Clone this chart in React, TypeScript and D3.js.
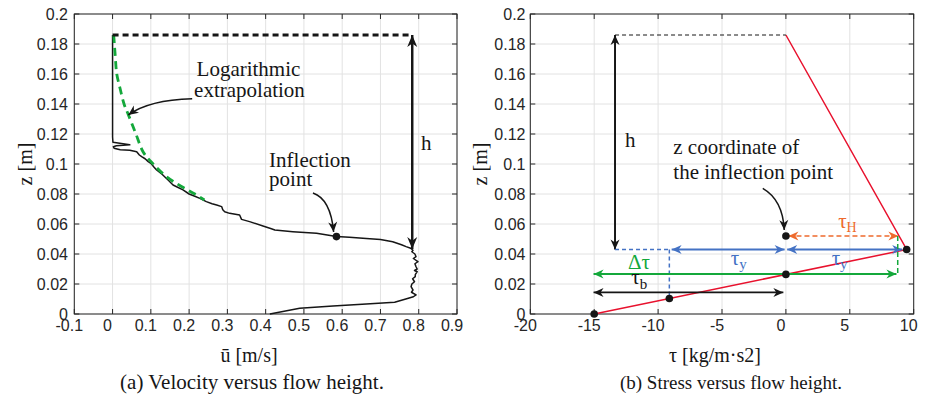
import React from 'react';
import * as d3 from 'd3';

// ---------- data ----------
const uTicks = [-0.1, 0, 0.1, 0.2, 0.3, 0.4, 0.5, 0.6, 0.7, 0.8, 0.9];
const uTickLabels = ['-0.1', '0', '0.1', '0.2', '0.3', '0.4', '0.5', '0.6', '0.7', '0.8', '0.9'];
const zTicks = [0, 0.02, 0.04, 0.06, 0.08, 0.1, 0.12, 0.14, 0.16, 0.18, 0.2];
const zTickLabels = ['0', '0.02', '0.04', '0.06', '0.08', '0.1', '0.12', '0.14', '0.16', '0.18', '0.2'];
const tauTicks = [-20, -15, -10, -5, 0, 5, 10];
const tauTickLabels = ['-20', '-15', '-10', '-5', '0', '5', '10'];

// measured mean velocity profile (u [m/s], z [m])
const velocityU = [0.0, 0.0, 0.0, 0.001, 0.045, 0.01, 0.002, 0.004, 0.02, 0.045, 0.063, 0.07, 0.076, 0.085, 0.093, 0.1, 0.108, 0.115, 0.13, 0.145, 0.158, 0.17, 0.184, 0.2, 0.215, 0.228, 0.245, 0.26, 0.272, 0.285, 0.288, 0.293, 0.306, 0.332, 0.337, 0.358, 0.393, 0.415, 0.424, 0.471, 0.533, 0.585, 0.619, 0.663, 0.7, 0.732, 0.755, 0.767, 0.779, 0.785, 0.782, 0.79, 0.793, 0.786, 0.798, 0.79, 0.793, 0.796, 0.789, 0.796, 0.791, 0.791, 0.784, 0.789, 0.782, 0.78, 0.785, 0.781, 0.793, 0.786, 0.764, 0.737, 0.663, 0.576, 0.489, 0.411];
const velocityZ = [0.186, 0.15, 0.118, 0.1145, 0.1128, 0.1122, 0.1115, 0.1105, 0.1095, 0.1092, 0.1082, 0.106, 0.1049, 0.1035, 0.1016, 0.1005, 0.098, 0.096, 0.093, 0.0893, 0.086, 0.0845, 0.0827, 0.08, 0.0785, 0.0771, 0.0749, 0.0735, 0.0727, 0.0716, 0.0695, 0.0682, 0.0671, 0.066, 0.0631, 0.0616, 0.0587, 0.0568, 0.056, 0.0549, 0.0538, 0.0516, 0.0511, 0.0504, 0.0496, 0.0482, 0.0462, 0.0449, 0.0438, 0.0425, 0.0415, 0.04, 0.0382, 0.037, 0.0349, 0.0335, 0.0315, 0.03, 0.029, 0.0282, 0.0262, 0.0249, 0.0235, 0.0215, 0.02, 0.0182, 0.016, 0.0145, 0.0127, 0.0115, 0.0098, 0.0078, 0.0067, 0.0053, 0.0038, 0.0];

// logarithmic extrapolation
const logU = [0.003, 0.007, 0.011, 0.02, 0.03, 0.041, 0.061, 0.08, 0.106, 0.141, 0.18, 0.215, 0.24];
const logZ = [0.186, 0.172, 0.16, 0.15, 0.14, 0.133, 0.12, 0.108, 0.1, 0.0915, 0.085, 0.08, 0.076];

const flowHeight = 0.186;
const inflectionU = 0.585;
const inflectionZ = 0.0516;
const hArrowU = 0.783;
const hArrowBottomZ = 0.0433;

// stress profile
const redTau = [-15, 9.45, 0];
const redZ = [0, 0.043, 0.186];
const dotTau = [-15, -9.12, 0, 9.45, 0];
const dotZ = [0, 0.0103, 0.0264, 0.043, 0.052];
const yieldZ = 0.043;
const inflZ = 0.052;
const hTau = -13.37;
const tauBZ = 0.0144;
const deltaTauZ = 0.0266;

// ---------- layout ----------
const TOP = 14, BOTTOM = 314;
const xL = d3.scaleLinear().domain([-0.1, 0.9]).range([74.3, 457]);
const xR = d3.scaleLinear().domain([-20, 10]).range([530.3, 913.7]);
const y = d3.scaleLinear().domain([0, 0.2]).range([BOTTOM, TOP]);

const SANS = "'Liberation Sans', Arial, Helvetica, sans-serif";
const SERIF = "'Liberation Serif', 'Times New Roman', Times, serif";
const FRAME = '#262626';
const GRID = '#e2e2e2';
const BLUE = '#4472c4';
const GREEN = '#14a83b';
const ORANGE = '#ee6a2c';
const RED = '#e8112d';
const BLACK = '#161616';

function Frame({ x, ticks, labels, yAxisX }: any) {
  const [x0, x1] = x.range();
  return (
    <g>
      {ticks.map((t: number, i: number) => (
        <line key={'gx' + i} x1={x(t)} x2={x(t)} y1={TOP} y2={BOTTOM} stroke={GRID} strokeWidth={1} />
      ))}
      {zTicks.map((t, i) => (
        <line key={'gy' + i} x1={x0} x2={x1} y1={y(t)} y2={y(t)} stroke={GRID} strokeWidth={1} />
      ))}
      {ticks.map((t: number, i: number) => (
        <g key={'tx' + i}>
          <line x1={x(t)} x2={x(t)} y1={BOTTOM} y2={BOTTOM - 5} stroke={FRAME} />
          <line x1={x(t)} x2={x(t)} y1={TOP} y2={TOP + 5} stroke={FRAME} />
          <text x={x(t) - 5} y={331} textAnchor="middle" style={{ fontFamily: SANS }} fontSize={16} fill={FRAME}>{labels[i]}</text>
        </g>
      ))}
      {zTicks.map((t, i) => (
        <g key={'ty' + i}>
          <line x1={x0} x2={x0 + 5} y1={y(t)} y2={y(t)} stroke={FRAME} />
          <line x1={x1} x2={x1 - 5} y1={y(t)} y2={y(t)} stroke={FRAME} />
          <text x={yAxisX} y={y(t) + 5.5} textAnchor="end" style={{ fontFamily: SANS }} fontSize={16} fill={FRAME}>{zTickLabels[i]}</text>
        </g>
      ))}
      <rect x={x0} y={TOP} width={x1 - x0} height={BOTTOM - TOP} fill="none" stroke={FRAME} strokeWidth={1} />
    </g>
  );
}

function Marker({ id, color, len = 10, half = 4.5 }: any) {
  return (
    <marker id={id} viewBox={`${-len - 2} ${-half - 1} ${len + 4} ${2 * half + 2}`} markerWidth={len + 4} markerHeight={2 * half + 2}
      refX={0} refY={0} orient="auto-start-reverse" markerUnits="userSpaceOnUse">
      <path d={`M0,0 L${-len},${-half} L${-len * 0.7},0 L${-len},${half} Z`} fill={color} stroke="none" />
    </marker>
  );
}

function T({ x, yy, size = 21, color = BLACK, anchor = 'start', children, transform }: any) {
  return (
    <text x={x} y={yy} transform={transform} textAnchor={anchor} style={{ fontFamily: SERIF }} fontSize={size} fill={color}>{children}</text>
  );
}

export default function App() {
  const velLine = d3.line<number>().x(i => xL(velocityU[i])).y(i => y(velocityZ[i]));
  const logLine = d3.line<number>().x(i => xL(logU[i])).y(i => y(logZ[i])).curve(d3.curveCatmullRom);
  const redLine = d3.line<number>().x(i => xR(redTau[i])).y(i => y(redZ[i]));

  return (
    <svg width={928} height={402} style={{ position: 'absolute', left: 0, top: 0, background: '#fff' }}>
      <defs>
        <Marker id="mBlackBig" color={BLACK} len={12} half={5} />
        <Marker id="mBlack" color={BLACK} len={10} half={4.5} />
        <Marker id="mBlue" color={BLUE} len={10} half={4.5} />
        <Marker id="mGreen" color={GREEN} len={10} half={4.5} />
        <Marker id="mOrange" color={ORANGE} len={10} half={4.5} />
      </defs>

      {/* ---------------- left panel ---------------- */}
      <Frame x={xL} ticks={uTicks} labels={uTickLabels} yAxisX={68} />
      <path d={velLine(d3.range(velocityU.length)) || ''} fill="none" stroke={BLACK} strokeWidth={1.5} strokeLinejoin="round" />
      <path d={logLine(d3.range(logU.length)) || ''} fill="none" stroke={GREEN} strokeWidth={2.8} strokeDasharray="8 5" />
      <line x1={xL(0)} x2={xL(hArrowU)} y1={y(flowHeight)} y2={y(flowHeight)} stroke={BLACK} strokeWidth={3} strokeDasharray="6 4" />
      <line x1={xL(hArrowU)} x2={xL(hArrowU)} y1={y(flowHeight)} y2={y(hArrowBottomZ)} stroke={BLACK} strokeWidth={2.5}
        markerStart="url(#mBlackBig)" markerEnd="url(#mBlackBig)" />
      <circle cx={xL(inflectionU)} cy={y(inflectionZ)} r={3.8} fill={BLACK} />
      <T x={xL(0.806)} yy={y(0.1093)}>h</T>
      <T x={xL(0.2195)} yy={y(0.1587)}>Logarithmic</T>
      <T x={xL(0.213)} yy={y(0.1447)}>extrapolation</T>
      <path d={`M${xL(0.208)},${y(0.1435)} Q${xL(0.0955)},${y(0.1427)} ${xL(0.041)},${y(0.1327)}`} fill="none" stroke={BLACK} strokeWidth={1.5} markerEnd="url(#mBlack)" />
      <T x={xL(0.409)} yy={y(0.0982)}>Inflection</T>
      <T x={xL(0.409)} yy={y(0.0853)}>point</T>
      <path d={`M${xL(0.5236)},${y(0.0807)} Q${xL(0.5699)},${y(0.0767)} ${xL(0.5776)},${y(0.0547)}`} fill="none" stroke={BLACK} strokeWidth={1.5} markerEnd="url(#mBlack)" />

      <T transform={`translate(32,${y(0.1)}) rotate(-90)`} x={0} yy={0} size={20} anchor="middle">z [m]</T>
      <T x={249} yy={362} size={20} anchor="middle">ū [m/s]</T>
      <T x={252} yy={389} size={21} anchor="middle">(a) Velocity versus flow height.</T>

      {/* ---------------- right panel ---------------- */}
      <Frame x={xR} ticks={tauTicks} labels={tauTickLabels} yAxisX={525.5} />
      <path d={redLine(d3.range(redTau.length)) || ''} fill="none" stroke={RED} strokeWidth={1.5} />
      <line x1={xR(hTau)} x2={xR(0)} y1={y(flowHeight)} y2={y(flowHeight)} stroke={BLACK} strokeWidth={1} strokeDasharray="4 3" />
      <line x1={xR(hTau)} x2={xR(hTau)} y1={y(flowHeight)} y2={y(yieldZ)} stroke={BLACK} strokeWidth={2}
        markerStart="url(#mBlack)" markerEnd="url(#mBlack)" />
      <T x={xR(-12.59)} yy={y(0.1115)}>h</T>
      <T x={xR(-8.81)} yy={y(0.1067)}>z coordinate of</T>
      <T x={xR(-8.81)} yy={y(0.09)}>the inflection point</T>
      <path d={`M${xR(-1.81)},${y(0.0838)} Q${xR(-0.23)},${y(0.076)} ${xR(-0.13)},${y(0.056)}`} fill="none" stroke={BLACK} strokeWidth={1.5} markerEnd="url(#mBlack)" />

      {/* blue yield stress */}
      <line x1={xR(hTau)} x2={xR(dotTau[1])} y1={y(yieldZ)} y2={y(yieldZ)} stroke={BLUE} strokeWidth={1.5} strokeDasharray="4 3" />
      <line x1={xR(dotTau[1])} x2={xR(dotTau[1])} y1={y(yieldZ)} y2={y(dotZ[1])} stroke={BLUE} strokeWidth={1.5} strokeDasharray="4 3" />
      <line x1={xR(-8.94)} x2={xR(-0.1)} y1={y(yieldZ)} y2={y(yieldZ)} stroke={BLUE} strokeWidth={1.8}
        markerStart="url(#mBlue)" markerEnd="url(#mBlue)" />
      <line x1={xR(0.1)} x2={xR(9.1)} y1={y(yieldZ)} y2={y(yieldZ)} stroke={BLUE} strokeWidth={1.8}
        markerStart="url(#mBlue)" markerEnd="url(#mBlue)" />
      <T x={xR(-4.32)} yy={y(0.0327)} size={21} color={BLUE}>τ<tspan fontSize={15} dy={4}>y</tspan></T>
      <T x={xR(3.58)} yy={y(0.0327)} size={21} color={BLUE}>τ<tspan fontSize={15} dy={4}>y</tspan></T>

      {/* orange */}
      <line x1={xR(0.2)} x2={xR(8.8)} y1={y(inflZ)} y2={y(inflZ)} stroke={ORANGE} strokeWidth={1.5} strokeDasharray="5 3"
        markerStart="url(#mOrange)" markerEnd="url(#mOrange)" />
      <T x={xR(4.09)} yy={y(0.0573)} size={21} color={ORANGE}>τ<tspan fontSize={14} dy={4}>H</tspan></T>

      {/* green */}
      <line x1={xR(8.75)} x2={xR(8.75)} y1={y(inflZ)} y2={y(deltaTauZ)} stroke={GREEN} strokeWidth={1.5} strokeDasharray="5 3" />
      <line x1={xR(-15.05)} x2={xR(8.65)} y1={y(deltaTauZ)} y2={y(deltaTauZ)} stroke={GREEN} strokeWidth={2}
        markerStart="url(#mGreen)" markerEnd="url(#mGreen)" />
      <T x={xR(-12.35)} yy={y(0.0301)} size={21} color={GREEN}>Δτ</T>

      {/* black tau_b */}
      <line x1={xR(-15.05)} x2={xR(-0.2)} y1={y(tauBZ)} y2={y(tauBZ)} stroke={BLACK} strokeWidth={1.8}
        markerStart="url(#mBlack)" markerEnd="url(#mBlack)" />
      <T x={xR(-12.1)} yy={y(0.0198)} size={21}>τ<tspan fontSize={15} dy={5}>b</tspan></T>

      {dotTau.map((t, i) => (
        <circle key={'d' + i} cx={xR(t)} cy={y(dotZ[i])} r={3.8} fill={BLACK} />
      ))}

      <T transform={`translate(487,${y(0.1)}) rotate(-90)`} x={0} yy={0} size={20} anchor="middle">z [m]</T>
      <T x={715} yy={362} size={20} anchor="middle">τ [kg/m·s2]</T>
      <T x={731} yy={389} size={19} anchor="middle">(b) Stress versus flow height.</T>
    </svg>
  );
}
